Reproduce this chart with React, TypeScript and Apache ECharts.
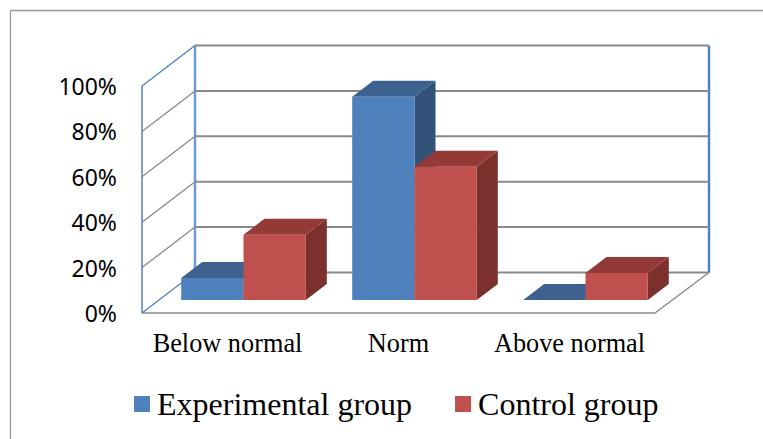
import React, { useEffect, useRef } from "react";
import * as echarts from "echarts";

const categories = ["Below normal", "Norm", "Above normal"];
const experimentalValues = [9.7, 89.5, 0];
const controlValues = [28.7, 58.7, 11.9];
const yTicks = [0, 20, 40, 60, 80, 100];

const BLUE = { front: "#4f81bd", top: "#3e6290", side: "#33527a" };
const RED = { front: "#c0504d", top: "#933936", side: "#7c302e" };
const GRAY = "#8a8a8a";
const WALL_BLUE = "#4f81bd";

// Oblique projection of the chart box
const WALL_DX = 53;
const WALL_DY = -40.5;
const BAR_PLANE_DX = 16;
const BAR_PLANE_DY = -13;
const BAR_DEPTH_DX = 21;
const BAR_DEPTH_DY = -16;
const BAR_WIDTH_RATIO = 62.3 / 171;

function barRenderer(colors: typeof BLUE, side: -1 | 0) {
  return (_params: any, api: any) => {
    const idx = api.value(0);
    const v = api.value(1);
    const base = api.coord([idx, 0]);
    const tip = api.coord([idx, v]);
    const w = api.size([1, 0])[0] * BAR_WIDTH_RATIO;
    const x0 = base[0] + BAR_PLANE_DX + side * w;
    const x1 = x0 + w;
    const yb = base[1] + BAR_PLANE_DY;
    const yt = tip[1] + BAR_PLANE_DY;
    const dx = BAR_DEPTH_DX;
    const dy = BAR_DEPTH_DY;
    return {
      type: "group",
      children: [
        {
          type: "polygon",
          shape: { points: [[x1, yb], [x1 + dx, yb + dy], [x1 + dx, yt + dy], [x1, yt]] },
          style: { fill: colors.side },
        },
        {
          type: "polygon",
          shape: { points: [[x0, yt], [x1, yt], [x1 + dx, yt + dy], [x0 + dx, yt + dy]] },
          style: { fill: colors.top },
        },
        {
          type: "polygon",
          shape: { points: [[x0, yb], [x1, yb], [x1, yt], [x0, yt]] },
          style: { fill: colors.front },
        },
      ],
    };
  };
}

function wallRenderer(params: any, api: any) {
  const cs = params.coordSys;
  const t = api.value(1);
  const y = api.coord([0, t])[1];
  const xl = cs.x;
  const xBack = xl + WALL_DX;
  const xBackR = cs.x + cs.width + WALL_DX + 1;
  const isEdge = t === yTicks[0] || t === yTicks[yTicks.length - 1];
  const children: any[] = [
    {
      type: "line",
      shape: { x1: xl, y1: y, x2: xBack, y2: y + WALL_DY },
      style: { stroke: isEdge ? WALL_BLUE : GRAY, lineWidth: 1.3 },
    },
    {
      type: "line",
      shape: { x1: xBack, y1: y + WALL_DY, x2: xBackR, y2: y + WALL_DY },
      style: { stroke: GRAY, lineWidth: 2 },
    },
  ];
  if (t === yTicks[0]) {
    const yTop = cs.y;
    children.push(
      { type: "line", shape: { x1: xl, y1: y, x2: cs.x + cs.width, y2: y }, style: { stroke: GRAY, lineWidth: 1.6 } },
      { type: "line", shape: { x1: cs.x + cs.width, y1: y, x2: xBackR, y2: y + WALL_DY }, style: { stroke: GRAY, lineWidth: 1.5 } },
      { type: "line", shape: { x1: xl, y1: y, x2: xl, y2: yTop }, style: { stroke: WALL_BLUE, lineWidth: 1.5 } },
      { type: "line", shape: { x1: xBack, y1: y + WALL_DY, x2: xBack, y2: yTop + WALL_DY }, style: { stroke: "#6f9acd", lineWidth: 2.5 } },
      { type: "line", shape: { x1: xBackR, y1: y + WALL_DY, x2: xBackR, y2: yTop + WALL_DY }, style: { stroke: WALL_BLUE, lineWidth: 2.5 } },
    );
  }
  return { type: "group", children };
}

export default function App() {
  const ref = useRef<HTMLDivElement>(null);

  useEffect(() => {
    document.body.style.margin = "0";
    const chart = echarts.init(ref.current!, null, { renderer: "svg" });
    chart.setOption({
      animation: false,
      backgroundColor: "#ffffff",
      grid: { left: 142, top: 86, width: 513, height: 227, containLabel: false },
      graphic: [
        { type: "line", shape: { x1: 10.5, y1: 10.5, x2: 763, y2: 10.5 }, style: { stroke: "#999999", lineWidth: 1.3 } },
        { type: "line", shape: { x1: 10.5, y1: 10.5, x2: 10.5, y2: 439 }, style: { stroke: "#999999", lineWidth: 1.3 } },
      ],
      legend: {
        data: ["Experimental group", "Control group"],
        left: 134,
        top: 388,
        padding: 0,
        icon: "rect",
        itemWidth: 16,
        itemHeight: 16,
        itemGap: 43,
        selectedMode: false,
        textStyle: { fontFamily: "Liberation Serif", fontSize: 32, color: "#000000", padding: [0, 0, 0, 2] },
      },
      xAxis: {
        type: "category",
        data: categories,
        axisLine: { show: false },
        axisTick: { show: false },
        axisLabel: { margin: 17, fontFamily: "Liberation Serif", fontSize: 26.3, color: "#000000", interval: 0 },
      },
      yAxis: {
        type: "value",
        min: 0,
        max: 100,
        interval: 20,
        splitLine: { show: false },
        axisLine: { show: false },
        axisTick: { show: false },
        axisLabel: { margin: 25, padding: [2, 0, 0, 0], fontFamily: "Noto Sans", fontSize: 23, color: "#000000", formatter: "{value}%" },
      },
      series: [
        {
          name: "walls",
          type: "custom",
          renderItem: wallRenderer,
          data: yTicks.map((t) => [0, t]),
          encode: { x: 0, y: 1 },
          clip: false,
          silent: true,
          z: 1,
        },
        {
          name: "Experimental group",
          type: "custom",
          renderItem: barRenderer(BLUE, -1),
          data: experimentalValues.map((v, i) => [i, v]),
          encode: { x: 0, y: 1 },
          itemStyle: { color: BLUE.front },
          clip: false,
          z: 2,
        },
        {
          name: "Control group",
          type: "custom",
          renderItem: barRenderer(RED, 0),
          data: controlValues.map((v, i) => [i, v]),
          encode: { x: 0, y: 1 },
          itemStyle: { color: RED.front },
          clip: false,
          z: 3,
        },
      ],
    });
    return () => chart.dispose();
  }, []);

  return <div ref={ref} style={{ width: 763, height: 439 }} />;
}
